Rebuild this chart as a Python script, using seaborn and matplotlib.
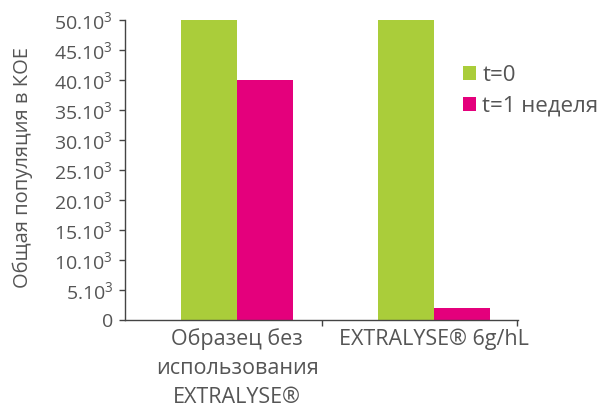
import matplotlib
matplotlib.use("Agg")
import matplotlib.pyplot as plt
import seaborn as sns
import pandas as pd

# data
categories = ["Образец без\nиспользования\nEXTRALYSE®", "EXTRALYSE® 6g/hL"]
series_names = ["t=0", "t=1 неделя"]
values_t0 = [50000, 50000]
values_t1 = [40000, 2000]
ytick_values = [0, 5000, 10000, 15000, 20000, 25000, 30000, 35000, 40000, 45000, 50000]
ytick_labels = ["0"] + [f"{v // 1000}.10$^3$" for v in ytick_values[1:]]
palette = ["#AACD3A", "#E4007C"]

sns.set_style("white")
plt.rcParams["font.family"] = ["Open Sans", "DejaVu Sans"]
plt.rcParams["mathtext.default"] = "regular"
text_color = "#555555"

df = pd.DataFrame({
    "category": categories * 2,
    "series": [series_names[0]] * 2 + [series_names[1]] * 2,
    "value": values_t0 + values_t1,
})

fig = plt.figure(figsize=(6.01, 4.09), dpi=100)
ax = fig.add_axes([0.208, 0.2176, 0.654, 0.7334])

sns.barplot(data=df, x="category", y="value", hue="series", palette=palette,
            width=0.57, saturation=1, linewidth=0, ax=ax, legend=True)

ax.set_xlim(-0.57, 1.425)
ax.set_ylim(0, 50000)
ax.set_yticks(ytick_values)
ax.set_yticklabels(ytick_labels)
ax.set_xlabel("")
ax.set_ylabel("Общая популяция в КОЕ", fontsize=14.5, color=text_color)
ax.yaxis.set_label_coords(-0.234, 0.51)

# category separators as minor ticks
ax.set_xticks([0.43, 1.42], minor=True)
ax.tick_params(axis="x", which="major", bottom=True, length=0, pad=6, labelsize=15.5,
               labelcolor=text_color)
ax.tick_params(axis="x", which="minor", bottom=True, length=4.5, width=1, color="#444444",
               direction="out")
ax.tick_params(axis="y", left=True, length=4.5, width=1, color="#444444", direction="out",
               pad=4, labelsize=14, labelcolor=text_color)
for lab in ax.get_xticklabels():
    lab.set_linespacing(1.5)
    lab.set_verticalalignment("top")

for side in ["top", "right"]:
    ax.spines[side].set_visible(False)
for side in ["left", "bottom"]:
    ax.spines[side].set_color("#444444")
    ax.spines[side].set_linewidth(1)

leg = ax.legend(loc="upper left", bbox_to_anchor=(0.752, 0.869), bbox_transform=fig.transFigure,
                frameon=False, fontsize=16, handlelength=0.59, handleheight=0.59,
                handletextpad=0.27, labelspacing=0.45, borderpad=0)
for t in leg.get_texts():
    t.set_color(text_color)

plt.savefig("out.png", dpi=100)
